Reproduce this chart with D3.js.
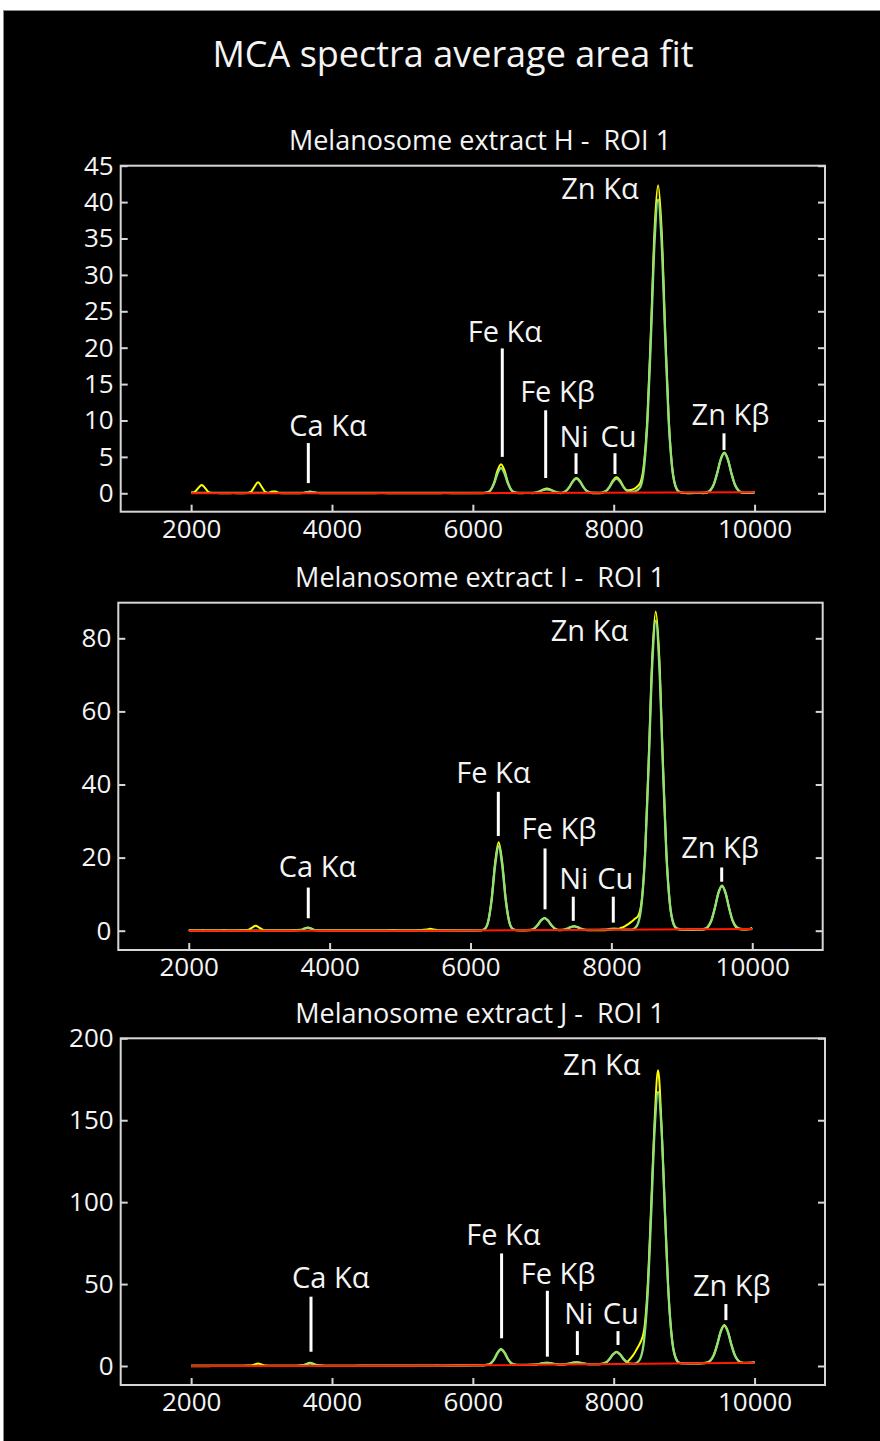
<!DOCTYPE html>
<html>
<head>
<meta charset="utf-8">
<script src="https://cdn.jsdelivr.net/npm/d3@7/dist/d3.min.js"></script>
<style>
  html, body { margin: 0; padding: 0; background: #fff; }
  svg { display: block; }
  text { font-family: 'Open Sans', 'Noto Sans', 'DejaVu Sans', sans-serif; fill: #f4f4f4; }
</style>
</head>
<body>
<svg id="chart" width="880" height="1441"></svg>
<script>
// Shared energy grid (eV) of the MCA spectra
const energy = [
  2000,2050,2100,2150,2200,2250,2300,2400,2500,2600,
  2700,2800,2850,2900,2950,3000,3050,3100,3150,3200,
  3250,3350,3500,3590,3640,3690,3740,3790,3900,4100,
  4300,4500,4700,4900,5100,5300,5380,5430,5480,5600,
  5800,6000,6150,6200,6250,6300,6350,6400,6450,6500,
  6550,6600,6650,6750,6850,6900,6950,7000,7050,7100,
  7150,7200,7250,7320,7370,7420,7470,7520,7570,7620,
  7700,7800,7890,7940,7990,8040,8090,8140,8190,8240,
  8290,8330,8380,8430,8480,8530,8580,8630,8680,8730,
  8780,8830,8880,8930,9000,9100,9200,9270,9320,9370,
  9420,9470,9520,9570,9620,9670,9720,9770,9820,9870,
  9950,10000
];

// Extract H: measured spectrum and fitted spectrum
const hData = [
  0.1,0.2,0.7,1.15,0.7,0.16,0.05,0.02,0,0.03,
  0,0.05,0.2,0.91,1.5,0.91,0.2,0.05,0.25,0.25,
  0.03,0,0,0.03,0.12,0.2,0.12,0.03,0,0,
  0.02,0,0.03,0,0.02,0,0,0.02,0,0.03,
  0,0.02,0.01,0.07,0.4,1.44,3.1,4.0,3.1,1.44,
  0.4,0.07,0.01,0.03,0.02,0.09,0.27,0.52,0.65,0.52,
  0.27,0.09,0.02,0.28,0.86,1.68,2.1,1.68,0.86,0.28,
  0.02,0.01,0.3,0.9,1.76,2.2,1.76,0.9,0.4,0.45,
  0.6,0.9,1.5,4.1,10.8,22.8,36.2,42.3,36.2,22.8,
  10.5,3.6,0.9,0.17,0.05,0.02,0.03,0.02,0.08,0.36,
  1.18,2.8,4.71,5.6,4.71,2.8,1.18,0.36,0.08,0.03,
  0.1,0.2
];
const hFit = [
  0.05,0.05,0.05,0.05,0.05,0.05,0.05,0.05,0.05,0.05,
  0.05,0.05,0.05,0.05,0.05,0.05,0.05,0.05,0.05,0.05,
  0.05,0.05,0.05,0.06,0.14,0.22,0.14,0.06,0.05,0.05,
  0.05,0.05,0.05,0.05,0.05,0.05,0.05,0.05,0.05,0.05,
  0.05,0.05,0.06,0.11,0.4,1.29,2.72,3.45,2.72,1.29,
  0.4,0.11,0.06,0.05,0.06,0.12,0.26,0.45,0.55,0.45,
  0.26,0.12,0.06,0.31,0.85,1.61,2.0,1.61,0.85,0.31,
  0.07,0.06,0.31,0.85,1.61,2.0,1.61,0.85,0.31,0.25,
  0.22,0.4,0.9,3.46,10.05,21.75,34.55,40.35,34.55,21.75,
  10.05,3.46,0.9,0.21,0.06,0.06,0.06,0.07,0.13,0.4,
  1.21,2.79,4.64,5.5,4.64,2.79,1.21,0.4,0.13,0.07,
  0.06,0.06
];

// Extract I
const iData = [
  0.2,0.1,0.15,0.1,0.2,0.1,0.15,0.1,0.2,0.1,
  0.15,0.2,0.3,0.85,1.35,0.85,0.3,0.1,0.15,0.1,
  0.15,0.1,0.2,0.25,0.6,0.9,0.6,0.2,0.1,0.15,
  0.1,0.15,0.1,0.2,0.1,0.2,0.35,0.55,0.35,0.1,
  0.15,0.1,0.1,0.45,2.45,8.7,18.8,24.2,18.8,8.7,
  2.45,0.45,0.1,0.1,0.15,0.5,1.45,2.8,3.5,2.8,
  1.45,0.5,0.15,0.2,0.5,0.96,1.2,0.96,0.5,0.2,
  0.1,0.1,0.12,0.2,0.35,0.42,0.4,0.8,1.2,1.8,
  2.5,3.2,4.0,8.2,22.0,47.1,74.8,87.3,74.8,47.1,
  21.7,7.4,1.9,0.45,0.25,0.2,0.25,0.25,0.35,0.95,
  2.75,6.3,10.5,12.4,10.5,6.3,2.75,0.95,0.4,0.35,
  0.4,0.75
];
const iFit = [
  0.02,0.02,0.02,0.02,0.02,0.02,0.02,0.02,0.02,0.02,
  0.02,0.02,0.02,0.02,0.02,0.02,0.02,0.02,0.02,0.02,
  0.02,0.02,0.02,0.13,0.5,0.8,0.5,0.13,0.02,0.02,
  0.02,0.02,0.02,0.02,0.02,0.02,0.02,0.02,0.02,0.03,
  0.05,0.05,0.1,0.45,2.38,8.35,17.9,23.1,17.9,8.35,
  2.38,0.48,0.15,0.13,0.2,0.55,1.47,2.78,3.44,2.78,
  1.47,0.55,0.25,0.3,0.57,0.96,1.16,0.96,0.57,0.3,
  0.2,0.22,0.27,0.35,0.47,0.53,0.47,0.36,0.29,0.28,
  0.3,0.6,2.05,7.45,21.3,45.8,72.7,84.8,72.7,45.8,
  21.3,7.45,2.08,0.64,0.32,0.33,0.34,0.37,0.51,1.11,
  2.87,6.3,10.3,12.2,10.3,6.3,2.87,1.13,0.55,0.43,
  0.42,0.45
];

// Extract J
const jData = [
  0.1,0.1,0.2,0.15,0.1,0.2,0.1,0.15,0.1,0.2,
  0.1,0.3,0.3,1.0,1.5,1.0,0.3,0.15,0.1,0.2,
  0.1,0.15,0.2,0.4,1.3,2.0,1.3,0.4,0.2,0.1,
  0.2,0.15,0.2,0.1,0.2,0.15,0.2,0.2,0.25,0.2,
  0.3,0.4,0.5,0.7,1.5,4.0,8.1,10.4,8.2,4.1,
  1.6,0.8,0.6,0.65,0.75,0.9,1.3,1.8,2.0,1.8,
  1.3,1.0,0.85,1.0,1.5,2.0,2.25,2.0,1.5,1.15,
  1.0,1.05,2.2,4.25,7.2,8.7,7.2,4.3,2.6,4.7,
  7.5,10.5,14.5,21.5,47.0,96.0,149.0,180.5,146.0,92.0,
  43.0,15.6,4.9,2.0,1.6,1.5,1.55,1.6,1.95,3.2,
  6.6,13.3,21.3,25.0,21.3,13.3,6.6,3.2,2.0,1.8,
  1.9,2.4
];
const jFit = [
  0,0,0.01,0.01,0.01,0.01,0.02,0.02,0.03,0.04,
  0.04,0.05,0.05,0.05,0.06,0.06,0.06,0.07,0.07,0.07,
  0.08,0.08,0.09,0.3,1.0,1.6,1.0,0.3,0.11,0.12,
  0.13,0.14,0.16,0.17,0.18,0.19,0.2,0.2,0.2,0.24,
  0.32,0.4,0.46,0.64,1.45,3.85,7.9,10.1,8.0,4.0,
  1.55,0.8,0.7,0.7,0.75,0.9,1.3,1.75,1.95,1.75,
  1.3,1.0,0.9,1.1,1.5,2.0,2.25,2.0,1.5,1.15,
  1.1,1.15,2.1,4.2,7.0,8.5,7.0,4.2,2.15,1.45,
  1.35,1.95,4.8,15.4,42.6,90.8,143.6,167.3,143.6,90.8,
  42.6,15.4,4.8,1.95,1.6,1.64,1.68,1.74,2.0,3.2,
  6.5,13.0,20.9,24.5,20.9,13.0,6.5,3.2,2.1,1.95,
  1.98,2.0
];

// Fitted continuum (background) for each extract
const bgEnergy = [2000, 5500, 10000];
const hBackground = [0, 0, 0.15];
const iBackground = [0, 0, 0.45];
const jBackground = [0, 0.2, 2.0];

// Tick values
const xTicks = [2000, 4000, 6000, 8000, 10000];
const hTicks = [0, 5, 10, 15, 20, 25, 30, 35, 40, 45];
const iTicks = [0, 20, 40, 60, 80];
const jTicks = [0, 50, 100, 150, 200];

// Emission-line labels: text anchor (tx, ty) and marker line (x, y0..y1), in data units
const hLabels = [
  { text: "Ca K\u03b1", tx: 3943, ty: 7.85, x: 3664, y0: 1.4, y1: 6.9 },
  { text: "Fe K\u03b1", tx: 6456, ty: 20.8, x: 6418, y0: 5.0, y1: 19.9 },
  { text: "Fe K\u03b2", tx: 7202, ty: 12.6, x: 7034, y0: 2.1, y1: 11.4 },
  { text: "Ni", tx: 7436, ty: 6.4, x: 7465, y0: 2.65, y1: 5.5 },
  { text: "Cu", tx: 8068, ty: 6.4, x: 8018, y0: 2.65, y1: 5.5 },
  { text: "Zn K\u03b1", tx: 7805, ty: 40.4 },
  { text: "Zn K\u03b2", tx: 9658, ty: 9.4, x: 9566, y0: 5.95, y1: 8.24 }
];
const iLabels = [
  { text: "Ca K\u03b1", tx: 3828, ty: 14.8, x: 3697, y0: 3.4, y1: 11.8 },
  { text: "Fe K\u03b1", tx: 6324, ty: 40.3, x: 6395, y0: 25.9, y1: 38.0 },
  { text: "Fe K\u03b2", tx: 7256, ty: 25.0, x: 7058, y0: 5.85, y1: 22.5 },
  { text: "Ni", tx: 7467, ty: 11.3, x: 7459, y0: 2.7, y1: 9.3 },
  { text: "Cu", tx: 8056, ty: 11.3, x: 8027, y0: 2.2, y1: 9.3 },
  { text: "Zn K\u03b1", tx: 7689, ty: 79.3 },
  { text: "Zn K\u03b2", tx: 9543, ty: 19.8, x: 9566, y0: 13.4, y1: 17.3 }
];
const jLabels = [
  { text: "Ca K\u03b1", tx: 3983, ty: 47.4, x: 3702, y0: 8.7, y1: 42.3 },
  { text: "Fe K\u03b1", tx: 6433, ty: 73.8, x: 6408, y0: 16.9, y1: 68.7 },
  { text: "Fe K\u03b2", tx: 7211, ty: 50, x: 7058, y0: 5.7, y1: 45.9 },
  { text: "Ni", tx: 7503, ty: 25.6, x: 7484, y0: 6.7, y1: 21.3 },
  { text: "Cu", tx: 8100, ty: 25.6, x: 8061, y0: 12.8, y1: 21.3 },
  { text: "Zn K\u03b1", tx: 7830, ty: 177.4 },
  { text: "Zn K\u03b2", tx: 9678, ty: 42.7, x: 9593, y0: 28.0, y1: 37.8 }
];

const panels = [
  { title: "Melanosome extract H -  ROI 1", titleY: 150,
    left: 120.7, right: 825, top: 165.7, bottom: 511.7, yDomain: [-2.53, 45],
    ticks: hTicks, data: hData, fit: hFit, bg: hBackground, labels: hLabels },
  { title: "Melanosome extract I -  ROI 1", titleY: 587,
    left: 118.3, right: 822.7, top: 602.7, bottom: 950, yDomain: [-5.28, 89.74],
    ticks: iTicks, data: iData, fit: iFit, bg: iBackground, labels: iLabels },
  { title: "Melanosome extract J -  ROI 1", titleY: 1023,
    left: 120.7, right: 825, top: 1038.3, bottom: 1385, yDomain: [-11.6, 200],
    ticks: jTicks, data: jData, fit: jFit, bg: jBackground, labels: jLabels }
];

const COLORS = { data: "#ffff00", fit: "#8fe07a", bg: "#ff1a00", frame: "#d6d6d6", text: "#f4f4f4" };

const svg = d3.select("#chart");

// black plate
svg.append("rect")
  .attr("x", 3.5).attr("y", 10.5).attr("width", 880).attr("height", 1440)
  .attr("fill", "#000").attr("stroke", "#8a8a8a").attr("stroke-width", 1);

svg.append("text")
  .attr("x", 453).attr("y", 67)
  .attr("text-anchor", "middle")
  .style("font-size", "36px")
  .text("MCA spectra average area fit");

panels.forEach(p => {
  const x = d3.scaleLinear().domain([1000, 11000]).range([p.left, p.right]);
  const y = d3.scaleLinear().domain(p.yDomain).range([p.bottom, p.top]);
  const g = svg.append("g");

  g.append("text")
    .attr("x", 480).attr("y", p.titleY)
    .attr("text-anchor", "middle")
    .attr("xml:space", "preserve")
    .style("white-space", "pre")
    .style("font-size", "27px")
    .text(p.title);

  // axes with inward ticks
  const styleAxis = sel => {
    sel.select(".domain").remove();
    sel.selectAll(".tick line").attr("stroke", COLORS.frame).attr("stroke-width", 2);
    sel.selectAll(".tick text").attr("fill", COLORS.text)
      .style("font-size", "26px")
      .style("font-family", "'Open Sans', 'Noto Sans', sans-serif");
  };
  g.append("g").attr("transform", `translate(${p.left},0)`)
    .call(d3.axisLeft(y).tickValues(p.ticks).tickSize(-7).tickPadding(7).tickFormat(d3.format("d")))
    .call(styleAxis);
  g.append("g").attr("transform", `translate(${p.right},0)`)
    .call(d3.axisRight(y).tickValues(p.ticks).tickSize(-7).tickFormat(""))
    .call(styleAxis);
  g.append("g").attr("transform", `translate(0,${p.bottom})`)
    .call(d3.axisBottom(x).tickValues(xTicks).tickSize(-7).tickPadding(8).tickFormat(d3.format("d")))
    .call(styleAxis);

  g.append("rect")
    .attr("x", p.left).attr("y", p.top)
    .attr("width", p.right - p.left).attr("height", p.bottom - p.top)
    .attr("fill", "none").attr("stroke", COLORS.frame).attr("stroke-width", 2);

  const line = d3.line()
    .x((d, i) => x(energy[i]))
    .y(d => y(d))
    .curve(d3.curveMonotoneX);

  g.append("path").attr("d", line(p.data))
    .attr("fill", "none").attr("stroke", COLORS.data).attr("stroke-width", 2)
    .attr("stroke-linejoin", "round");
  g.append("path").attr("d", line(p.fit))
    .attr("fill", "none").attr("stroke", COLORS.fit).attr("stroke-width", 2.3)
    .attr("stroke-linejoin", "round");

  const bgLine = d3.line()
    .x((d, i) => x(bgEnergy[i]))
    .y(d => y(d));
  g.append("path").attr("d", bgLine(p.bg))
    .attr("fill", "none").attr("stroke", COLORS.bg).attr("stroke-width", 2);

  // peak labels
  p.labels.forEach(l => {
    if (l.x !== undefined) {
      g.append("line")
        .attr("x1", x(l.x)).attr("x2", x(l.x))
        .attr("y1", y(l.y0)).attr("y2", y(l.y1))
        .attr("stroke", "#fff").attr("stroke-width", 3);
    }
    g.append("text")
      .attr("x", x(l.tx)).attr("y", y(l.ty))
      .attr("text-anchor", "middle")
      .style("font-size", "29px")
      .text(l.text);
  });
});
</script>
</body>
</html>
